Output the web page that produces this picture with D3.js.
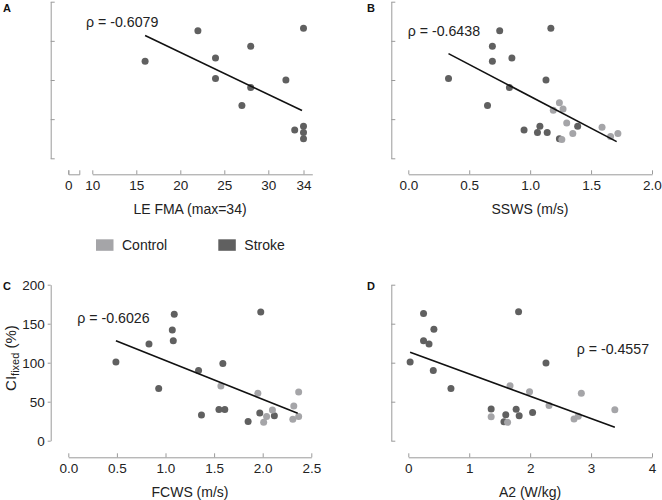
<!DOCTYPE html>
<html><head><meta charset="utf-8">
<script src="https://cdn.jsdelivr.net/npm/d3@7"></script>
<style>
body{margin:0;background:#fff;}
svg text{font-family:"Liberation Sans",Arial,Helvetica,sans-serif;}
</style></head>
<body><svg id="c" width="662" height="500"></svg>
<script>
// ---------- data ----------
const groups = ["Control", "Stroke"];
const yTicks = [0, 50, 100, 150, 200];

// Panel A: LE FMA vs CI fixed (stroke only)
const aStrokeX = [16, 22, 34, 28, 24, 24, 32, 28, 27, 33, 34, 34, 34];
const aStrokeY = [124, 163, 166, 143, 128, 102, 100, 90.5, 67.5, 36, 41, 33, 25];
const aFitX = [16, 33.83];
const aFitY = [156.8, 61];
const aRho = "ρ = -0.6079";
const aTicks = [10, 15, 20, 25, 30, 34];

// Panel B: SSWS
const bStrokeX = [0.33, 0.75, 1.17, 0.69, 0.69, 0.85, 1.13, 0.83, 0.65, 0.95, 1.08, 1.06, 1.14, 1.24, 1.39];
const bStrokeY = [102, 163, 166, 143, 124, 128, 100, 90.5, 67.5, 36, 41, 33, 33, 25, 41];
const bControlX = [1.24, 1.19, 1.27, 1.30, 1.35, 1.26, 1.59, 1.66, 1.72];
const bControlY = [71, 61.5, 63, 45, 31.6, 24, 39.7, 27.7, 31.6];
const bFitX = [0.33, 1.71];
const bFitY = [133.7, 21.3];
const bRho = "ρ = -0.6438";
const bTicks = [0, 0.5, 1.0, 1.5, 2.0];

// Panel C: FCWS
const cStrokeX = [0.49, 0.83, 0.93, 1.09, 1.07, 1.08, 1.34, 1.37, 1.59, 1.55, 1.61, 1.85, 1.98, 1.97, 2.12];
const cStrokeY = [101, 124, 67, 162, 142, 128, 90, 33, 99, 40, 40, 24.5, 165, 35.5, 32];
const cControlX = [1.57, 1.95, 2.01, 2.04, 2.10, 2.32, 2.31, 2.37, 2.37];
const cControlY = [70, 60.7, 23.5, 31, 39.4, 44.5, 27.4, 31, 62.4];
const cFitX = [0.49, 2.36];
const cFitY = [128.2, 35.1];
const cRho = "ρ = -0.6026";
const cTicks = [0, 0.5, 1.0, 1.5, 2.0, 2.5];

// Panel D: A2
const dStrokeX = [0.03, 0.25, 0.25, 0.34, 0.42, 0.41, 0.70, 1.36, 1.60, 1.57, 1.77, 1.81, 1.82, 2.04, 2.26];
const dStrokeY = [101, 163, 128, 124, 143, 90, 67, 40.6, 33.3, 24.4, 40.2, 165.4, 32, 36, 99.6];
const dControlX = [1.36, 1.63, 1.67, 1.99, 2.31, 2.72, 2.79, 2.84, 3.39];
const dControlY = [30.8, 23.5, 70.5, 62.8, 45, 27.8, 31.3, 60.7, 39.7];
const dFitX = [0.03, 3.39];
const dFitY = [113.3, 17.2];
const dRho = "ρ = -0.4557";
const dTicks = [0, 1, 2, 3, 4];

// ---------- drawing ----------
const svg = d3.select("#c");
const colors = {Control: "#a5a5a8", Stroke: "#606060"};
const axisColor = "#9a9a9a";
const R = 3.5;

function styleAxis(g, fs){
  g.select(".domain").attr("stroke", axisColor);
  g.selectAll(".tick line").attr("stroke", axisColor);
  g.selectAll(".tick text").attr("fill", "#222").attr("font-size", fs).attr("font-family", "Liberation Sans, Arial, sans-serif");
}

function panel(o){
  const g = svg.append("g");
  const y = d3.scaleLinear().domain([0, 200]).range([o.yBottom, o.yTop]);
  // y axis
  if (o.yLabels){
    const ya = g.append("g").attr("transform", `translate(${o.yAxisX},0)`)
      .call(d3.axisLeft(y).tickValues(yTicks).tickSizeInner(3).tickSizeOuter(0).tickPadding(3));
    styleAxis(ya, 13.5);
  } else {
    const ya = g.append("g").attr("transform", `translate(${o.yAxisX},0)`)
      .call(d3.axisRight(y).tickValues(yTicks).tickSize(4).tickSizeOuter(0).tickFormat(""));
    styleAxis(ya, 13.5);
  }
  // x axis
  const x = d3.scaleLinear().domain(o.xDomain).range(o.xRange);
  const xa = g.append("g").attr("transform", `translate(0,${o.xAxisY})`)
    .call(d3.axisBottom(x).tickValues(o.xTicks).tickSizeInner(-4).tickSizeOuter(0).tickPadding(6)
      .tickFormat(o.xFmt));
  styleAxis(xa, 13.5);
  if (o.brk){
    const xb = d3.scaleLinear().domain([0, 1.25]).range([o.brk[0], o.brk[1]]);
    const xba = g.append("g").attr("transform", `translate(0,${o.xAxisY})`)
      .call(d3.axisBottom(xb).tickValues([0]).tickSizeInner(-4).tickSizeOuter(-4).tickPadding(6).tickFormat(d3.format("d")));
    styleAxis(xba, 13.5);
  }
  // x title
  g.append("text").attr("x", o.titleX).attr("y", o.xAxisY + 40)
    .attr("text-anchor", "middle").attr("font-size", 14).attr("fill", "#222").text(o.title);
  // points
  const pts = [];
  if (o.sx) o.sx.forEach((v, i) => pts.push({x: v, y: o.sy[i], g: "Stroke"}));
  if (o.cx) o.cx.forEach((v, i) => pts.push({x: v, y: o.cy[i], g: "Control"}));
  g.selectAll("circle").data(pts).enter().append("circle")
    .attr("cx", d => x(d.x)).attr("cy", d => y(d.y)).attr("r", R)
    .attr("fill", d => colors[d.g]);
  // fit line
  g.append("line")
    .attr("x1", x(o.fx[0])).attr("y1", y(o.fy[0]))
    .attr("x2", x(o.fx[1])).attr("y2", y(o.fy[1]))
    .attr("stroke", "#111").attr("stroke-width", 1.6);
  // rho
  g.append("text").attr("x", o.rhoX).attr("y", o.rhoY).attr("font-size", 14.2).attr("fill", "#222").text(o.rho);
  // letter
  g.append("text").attr("x", o.letterX).attr("y", o.letterY).attr("font-size", 11).attr("font-weight", "bold")
    .attr("fill", "#111").text(o.letter);
  return g;
}

panel({letter:"A", letterX:3, letterY:12, yTop:1.7, yBottom:158.3, yAxisX:50.7, yLabels:false,
  xDomain:[10,35], xRange:[92.3,312.3], xTicks:aTicks, xFmt:d3.format("d"), xAxisY:174.3, brk:[68.3,79.3],
  title:"LE FMA (max=34)", titleX:190,
  sx:aStrokeX, sy:aStrokeY, fx:aFitX, fy:aFitY, rho:aRho, rhoX:86, rhoY:26.5});

panel({letter:"B", letterX:367, letterY:12, yTop:1.7, yBottom:158.3, yAxisX:391.3, yLabels:false,
  xDomain:[0,2], xRange:[408.3,652], xTicks:bTicks, xFmt:d3.format(".1f"), xAxisY:174.3,
  title:"SSWS (m/s)", titleX:530,
  sx:bStrokeX, sy:bStrokeY, cx:bControlX, cy:bControlY, fx:bFitX, fy:bFitY, rho:bRho, rhoX:407.7, rhoY:36});

panel({letter:"C", letterX:3, letterY:289.5, yTop:284.7, yBottom:440.7, yAxisX:50.7, yLabels:true,
  xDomain:[0,2.5], xRange:[68.3,311.3], xTicks:cTicks, xFmt:d3.format(".1f"), xAxisY:457.3,
  title:"FCWS (m/s)", titleX:190,
  sx:cStrokeX, sy:cStrokeY, cx:cControlX, cy:cControlY, fx:cFitX, fy:cFitY, rho:cRho, rhoX:77.3, rhoY:322.7});

panel({letter:"D", letterX:367, letterY:289.5, yTop:284.7, yBottom:440.7, yAxisX:391.3, yLabels:false,
  xDomain:[0,4], xRange:[408.3,652], xTicks:dTicks, xFmt:d3.format("d"), xAxisY:457.3,
  title:"A2 (W/kg)", titleX:530,
  sx:dStrokeX, sy:dStrokeY, cx:dControlX, cy:dControlY, fx:dFitX, fy:dFitY, rho:dRho, rhoX:576.7, rhoY:354});

// y-axis title for C
const yt = svg.append("text").attr("transform", "translate(15.5,358) rotate(-90)")
  .attr("text-anchor", "middle").attr("font-size", 15).attr("fill", "#222");
yt.append("tspan").text("CI");
yt.append("tspan").attr("font-size", 11).attr("dy", 3).text("fixed");
yt.append("tspan").attr("dy", -3).text(" (%)");

// legend
const legX = [96, 218.3];
const leg = svg.append("g");
groups.forEach((gname, i) => {
  leg.append("rect").attr("x", legX[i]).attr("y", 239.3).attr("width", 17.5).attr("height", 11.5)
    .attr("fill", colors[gname]);
  leg.append("text").attr("x", legX[i] + 26).attr("y", 250.2).attr("font-size", 14).attr("fill", "#222").text(gname);
});
</script></body></html>
